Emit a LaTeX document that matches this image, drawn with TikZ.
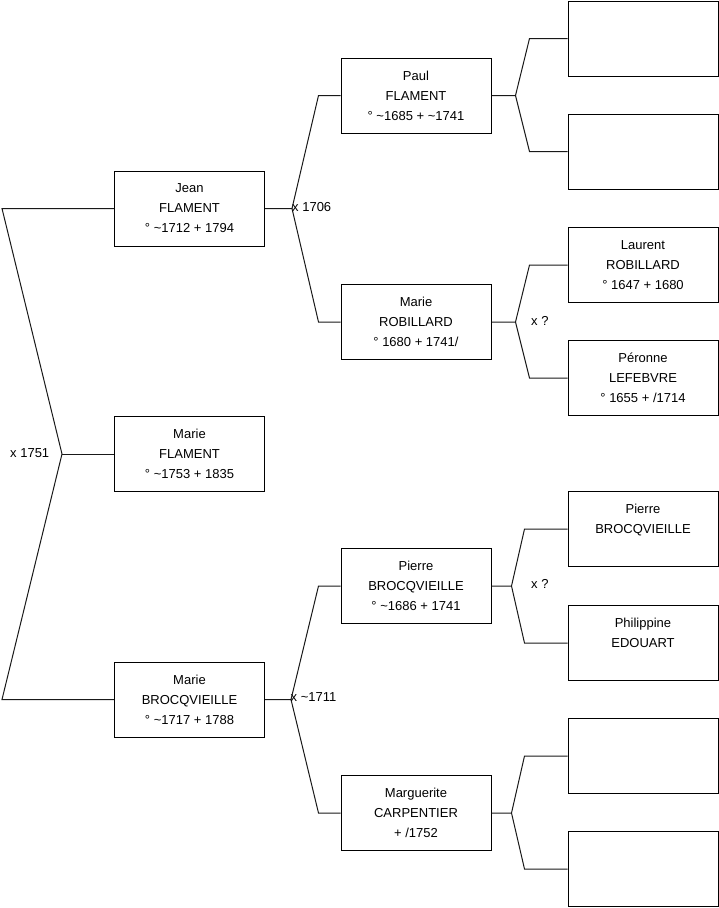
\documentclass[tikz,border=0pt]{standalone}
\usepackage{fontspec}
\setmainfont{Liberation Sans}
\usetikzlibrary{positioning,calc}

\begin{document}
\begin{tikzpicture}[
  x=1pt,y=-1pt,
  person/.style={draw=black,fill=white,rectangle,align=center,
    minimum width=150pt,minimum height=75pt,inner sep=0pt,line width=1pt,
    font=\fontsize{13}{20}\selectfont},
  link/.style={draw=black!90,line width=1pt},
  union/.style={anchor=west,inner sep=0pt,font=\fontsize{13}{16}\selectfont}
]
  \useasboundingbox (0,0) rectangle (719,908);

  \node[person] (jean) at (189.5,208.5) {Jean\\FLAMENT\\° \textasciitilde1712 + 1794};
  \node[person] (mflam) at (189.5,454) {Marie\\FLAMENT\\° \textasciitilde1753 + 1835};
  \node[person] (mbroc) at (189.5,699.5) {Marie\\BROCQVIEILLE\\° \textasciitilde1717 + 1788};

  \node[person] (paul) at (416,95.5) {Paul\\FLAMENT\\° \textasciitilde1685 + \textasciitilde1741};
  \node[person] (mrob) at (416,322) {Marie\\ROBILLARD\\° 1680 + 1741/};
  \node[person] (pierre) at (416,586) {Pierre\\BROCQVIEILLE\\° \textasciitilde1686 + 1741};
  \node[person] (marg) at (416,813) {Marguerite\\CARPENTIER\\+ /1752};

  \node[person] (ff) at (643,38.5) {};
  \node[person] (fm) at (643,151.5) {};
  \node[person] (laur) at (643,265) {Laurent\\ROBILLARD\\° 1647 + 1680};
  \node[person] (peron) at (643,378) {Péronne\\LEFEBVRE\\° 1655 + /1714};
  \node[person] (pbroc) at (643,529) {Pierre\\BROCQVIEILLE\\\mbox{}};
  \node[person] (phil) at (643,643) {Philippine\\EDOUART\\\mbox{}};
  \node[person] (cf) at (643,756) {};
  \node[person] (cm) at (643,869) {};

  \coordinate (ltop) at ([xshift=-112pt]jean.west);
  \coordinate (lmid) at ([xshift=-52pt]mflam.west);
  \coordinate (lbot) at ([xshift=-112pt]mbroc.west);
  \draw[link] (jean.west) -- (ltop) -- (lmid) -- (lbot) -- (mbroc.west);
  \draw[link] (lmid) -- (mflam.west);
  \node[union] (u1751) at (10,453) {x 1751};

  \coordinate (jx) at ([xshift=27pt]jean.east);
  \draw[link] (jean.east) -- (jx) -- ([xshift=-22pt]paul.west) -- (paul.west);
  \draw[link] (jx) -- ([xshift=-22pt]mrob.west) -- (mrob.west);
  \node[union] (u1706) at (292,207) {x 1706};

  \coordinate (bx) at ([xshift=26pt]mbroc.east);
  \draw[link] (mbroc.east) -- (bx) -- ([xshift=-22pt]pierre.west) -- (pierre.west);
  \draw[link] (bx) -- ([xshift=-22pt]marg.west) -- (marg.west);
  \node[union] (u1711) at (290.5,697.5) {x \textasciitilde1711};

  \coordinate (px) at ([xshift=24pt]paul.east);
  \draw[link] (paul.east) -- (px) -- ([xshift=-38pt]ff.west) -- (ff.west);
  \draw[link] (px) -- ([xshift=-38pt]fm.west) -- (fm.west);

  \coordinate (rx) at ([xshift=24pt]mrob.east);
  \draw[link] (mrob.east) -- (rx) -- ([xshift=-38pt]laur.west) -- (laur.west);
  \draw[link] (rx) -- ([xshift=-38pt]peron.west) -- (peron.west);
  \node[union] (urob) at (531,321) {x ?};

  \coordinate (qx) at ([xshift=20pt]pierre.east);
  \draw[link] (pierre.east) -- (qx) -- ([xshift=-43pt]pbroc.west) -- (pbroc.west);
  \draw[link] (qx) -- ([xshift=-43pt]phil.west) -- (phil.west);
  \node[union] (ubroc) at (531,584) {x ?};

  \coordinate (cx) at ([xshift=20pt]marg.east);
  \draw[link] (marg.east) -- (cx) -- ([xshift=-43pt]cf.west) -- (cf.west);
  \draw[link] (cx) -- ([xshift=-43pt]cm.west) -- (cm.west);
\end{tikzpicture}
\end{document}
